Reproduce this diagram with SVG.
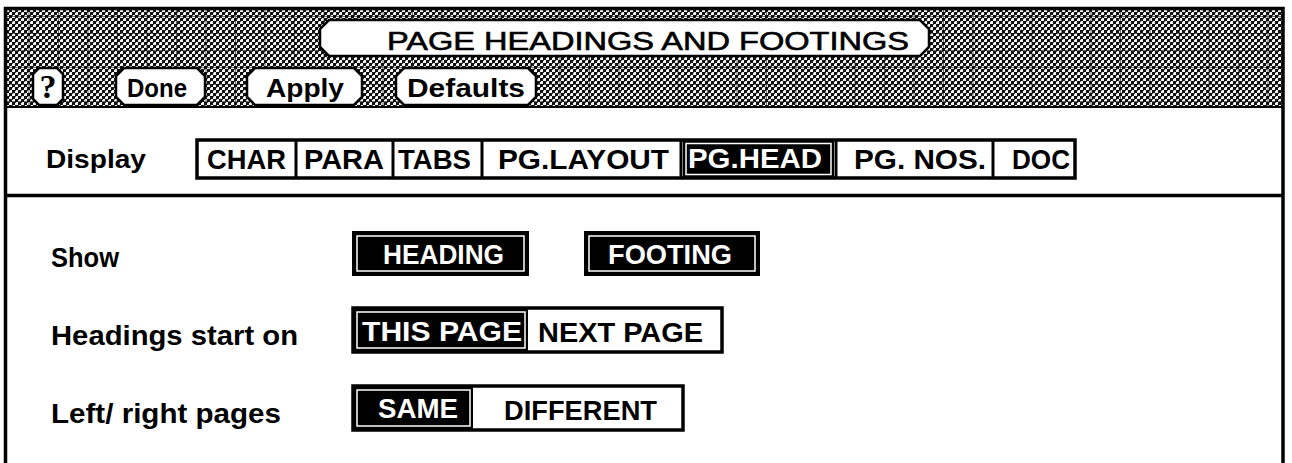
<svg xmlns="http://www.w3.org/2000/svg" width="1292" height="463" viewBox="0 0 1292 463">
<defs>
<pattern id="dither" width="6" height="6" patternUnits="userSpaceOnUse">
<rect width="6" height="6" fill="#f4f4f4"/>
<rect x="0" y="0" width="3" height="3" fill="#111"/>
<rect x="3" y="3" width="3" height="3" fill="#111"/>
<rect x="3" y="0" width="1" height="1" fill="#444"/>
<rect x="0" y="3" width="1" height="1" fill="#444"/>
</pattern>
<pattern id="grid" width="29.5" height="17" patternUnits="userSpaceOnUse">
<path d="M0 16.5H29.5M29 0V17" stroke="#000" stroke-width="1.2" opacity="0.55" fill="none"/>
</pattern>
<style>
.t{font-family:"Liberation Sans",Arial,Helvetica,sans-serif;font-weight:bold;fill:#000}
.w{font-family:"Liberation Sans",Arial,Helvetica,sans-serif;font-weight:bold;fill:#fff}
.btn{fill:#fff;stroke:#000;stroke-width:2.5}
.box{fill:#fff;stroke:#000;stroke-width:3.5}
.sel{fill:#000}
.inner{fill:none;stroke:#fff;stroke-width:1.5}
.div{stroke:#000;stroke-width:3}
</style>
</defs>

<rect x="0" y="0" width="1292" height="463" fill="#fff"/>

<g id="header">
<rect x="6" y="9" width="1276" height="98" fill="url(#dither)"/>
<rect x="6" y="9" width="1276" height="98" fill="url(#grid)"/>
<line x1="6" y1="107" x2="1282" y2="107" stroke="#000" stroke-width="2"/>
</g>

<g id="frame">
<path d="M5.5 463V8.5H1283V463" fill="none" stroke="#000" stroke-width="3.5"/>
</g>

<g id="title">
<path class="btn" d="M329 20H920L929 29V47L920 56H329L320 47V29Z"/>
<text x="387" y="50" font-size="25" font-family="Liberation Sans,Arial,Helvetica,sans-serif" fill="#000" stroke="#000" stroke-width="0.6" textLength="522" lengthAdjust="spacingAndGlyphs">PAGE HEADINGS AND FOOTINGS</text>
</g>

<g id="btn-help">
<path class="btn" d="M39 68H57L63 74V99L57 105H39L33 99V74Z"/>
<text x="48" y="98" font-size="34" text-anchor="middle" font-family="Liberation Serif,Times New Roman,serif" font-weight="bold">?</text>
</g>
<g id="btn-done">
<path class="btn" d="M124 68H197L205 76V97L197 105H124L116 97V76Z"/>
<text class="t" x="127" y="97" font-size="26" textLength="60" lengthAdjust="spacingAndGlyphs">Done</text>
</g>
<g id="btn-apply">
<path class="btn" d="M255 68H354L362 76V97L354 105H255L247 97V76Z"/>
<text class="t" x="266" y="97" font-size="26" textLength="78" lengthAdjust="spacingAndGlyphs">Apply</text>
</g>
<g id="btn-defaults">
<path class="btn" d="M404 68H528L536 76V97L528 105H404L396 97V76Z"/>
<text class="t" x="407" y="97" font-size="26" textLength="118" lengthAdjust="spacingAndGlyphs">Defaults</text>
</g>

<g id="display-row">
<text class="t" x="46" y="168" font-size="26" textLength="100" lengthAdjust="spacingAndGlyphs">Display</text>
<rect class="box" x="197" y="140" width="878" height="38"/>
<rect class="sel" x="683" y="141" width="151" height="36"/>
<rect class="inner" x="686" y="143.5" width="145" height="31"/>
<line class="div" x1="296" y1="140" x2="296" y2="178"/>
<line class="div" x1="393" y1="140" x2="393" y2="178"/>
<line class="div" x1="482" y1="140" x2="482" y2="178"/>
<line class="div" x1="681" y1="140" x2="681" y2="178"/>
<line class="div" x1="836" y1="140" x2="836" y2="178"/>
<line class="div" x1="993" y1="140" x2="993" y2="178"/>
<text class="t" x="207" y="169" font-size="28" textLength="79" lengthAdjust="spacingAndGlyphs">CHAR</text>
<text class="t" x="304" y="169" font-size="28" textLength="80" lengthAdjust="spacingAndGlyphs">PARA</text>
<text class="t" x="398" y="169" font-size="28" textLength="73" lengthAdjust="spacingAndGlyphs">TABS</text>
<text class="t" x="498" y="169" font-size="28" textLength="171" lengthAdjust="spacingAndGlyphs">PG.LAYOUT</text>
<text class="w" x="688" y="168" font-size="28" textLength="134" lengthAdjust="spacingAndGlyphs">PG.HEAD</text>
<text class="t" x="854" y="169" font-size="28" textLength="132" lengthAdjust="spacingAndGlyphs">PG. NOS.</text>
<text class="t" x="1012" y="169" font-size="28" textLength="58" lengthAdjust="spacingAndGlyphs">DOC</text>
</g>

<line id="separator" x1="5" y1="195.5" x2="1283" y2="195.5" stroke="#000" stroke-width="3.5"/>

<g id="show-row">
<text class="t" x="51" y="267" font-size="27" textLength="68" lengthAdjust="spacingAndGlyphs">Show</text>
<rect class="sel" x="353" y="232" width="175" height="43" stroke="#000" stroke-width="2"/>
<rect class="inner" x="357" y="236" width="167" height="35"/>
<text class="w" x="383" y="264" font-size="28" textLength="121" lengthAdjust="spacingAndGlyphs">HEADING</text>
<rect class="sel" x="585" y="232" width="174" height="43" stroke="#000" stroke-width="2"/>
<rect class="inner" x="589" y="236" width="166" height="35"/>
<text class="w" x="608" y="264" font-size="28" textLength="124" lengthAdjust="spacingAndGlyphs">FOOTING</text>
</g>

<g id="start-row">
<text class="t" x="51" y="345" font-size="27" textLength="247" lengthAdjust="spacingAndGlyphs">Headings start on</text>
<rect class="box" x="353" y="308" width="369" height="44"/>
<rect class="sel" x="354" y="309" width="174" height="42"/>
<rect class="inner" x="357" y="312" width="168" height="36"/>
<text class="w" x="362" y="341" font-size="28" textLength="160" lengthAdjust="spacingAndGlyphs">THIS PAGE</text>
<text class="t" x="538" y="342" font-size="28" textLength="165" lengthAdjust="spacingAndGlyphs">NEXT PAGE</text>
</g>

<g id="leftright-row">
<text class="t" x="51" y="423" font-size="27" textLength="230" lengthAdjust="spacingAndGlyphs">Left/ right pages</text>
<rect class="box" x="353" y="386" width="330" height="44"/>
<rect class="sel" x="354" y="387" width="119" height="42"/>
<rect class="inner" x="357" y="390" width="113" height="36"/>
<text class="w" x="378" y="418" font-size="28" textLength="80" lengthAdjust="spacingAndGlyphs">SAME</text>
<text class="t" x="504" y="420" font-size="28" textLength="153" lengthAdjust="spacingAndGlyphs">DIFFERENT</text>
</g>
</svg>
